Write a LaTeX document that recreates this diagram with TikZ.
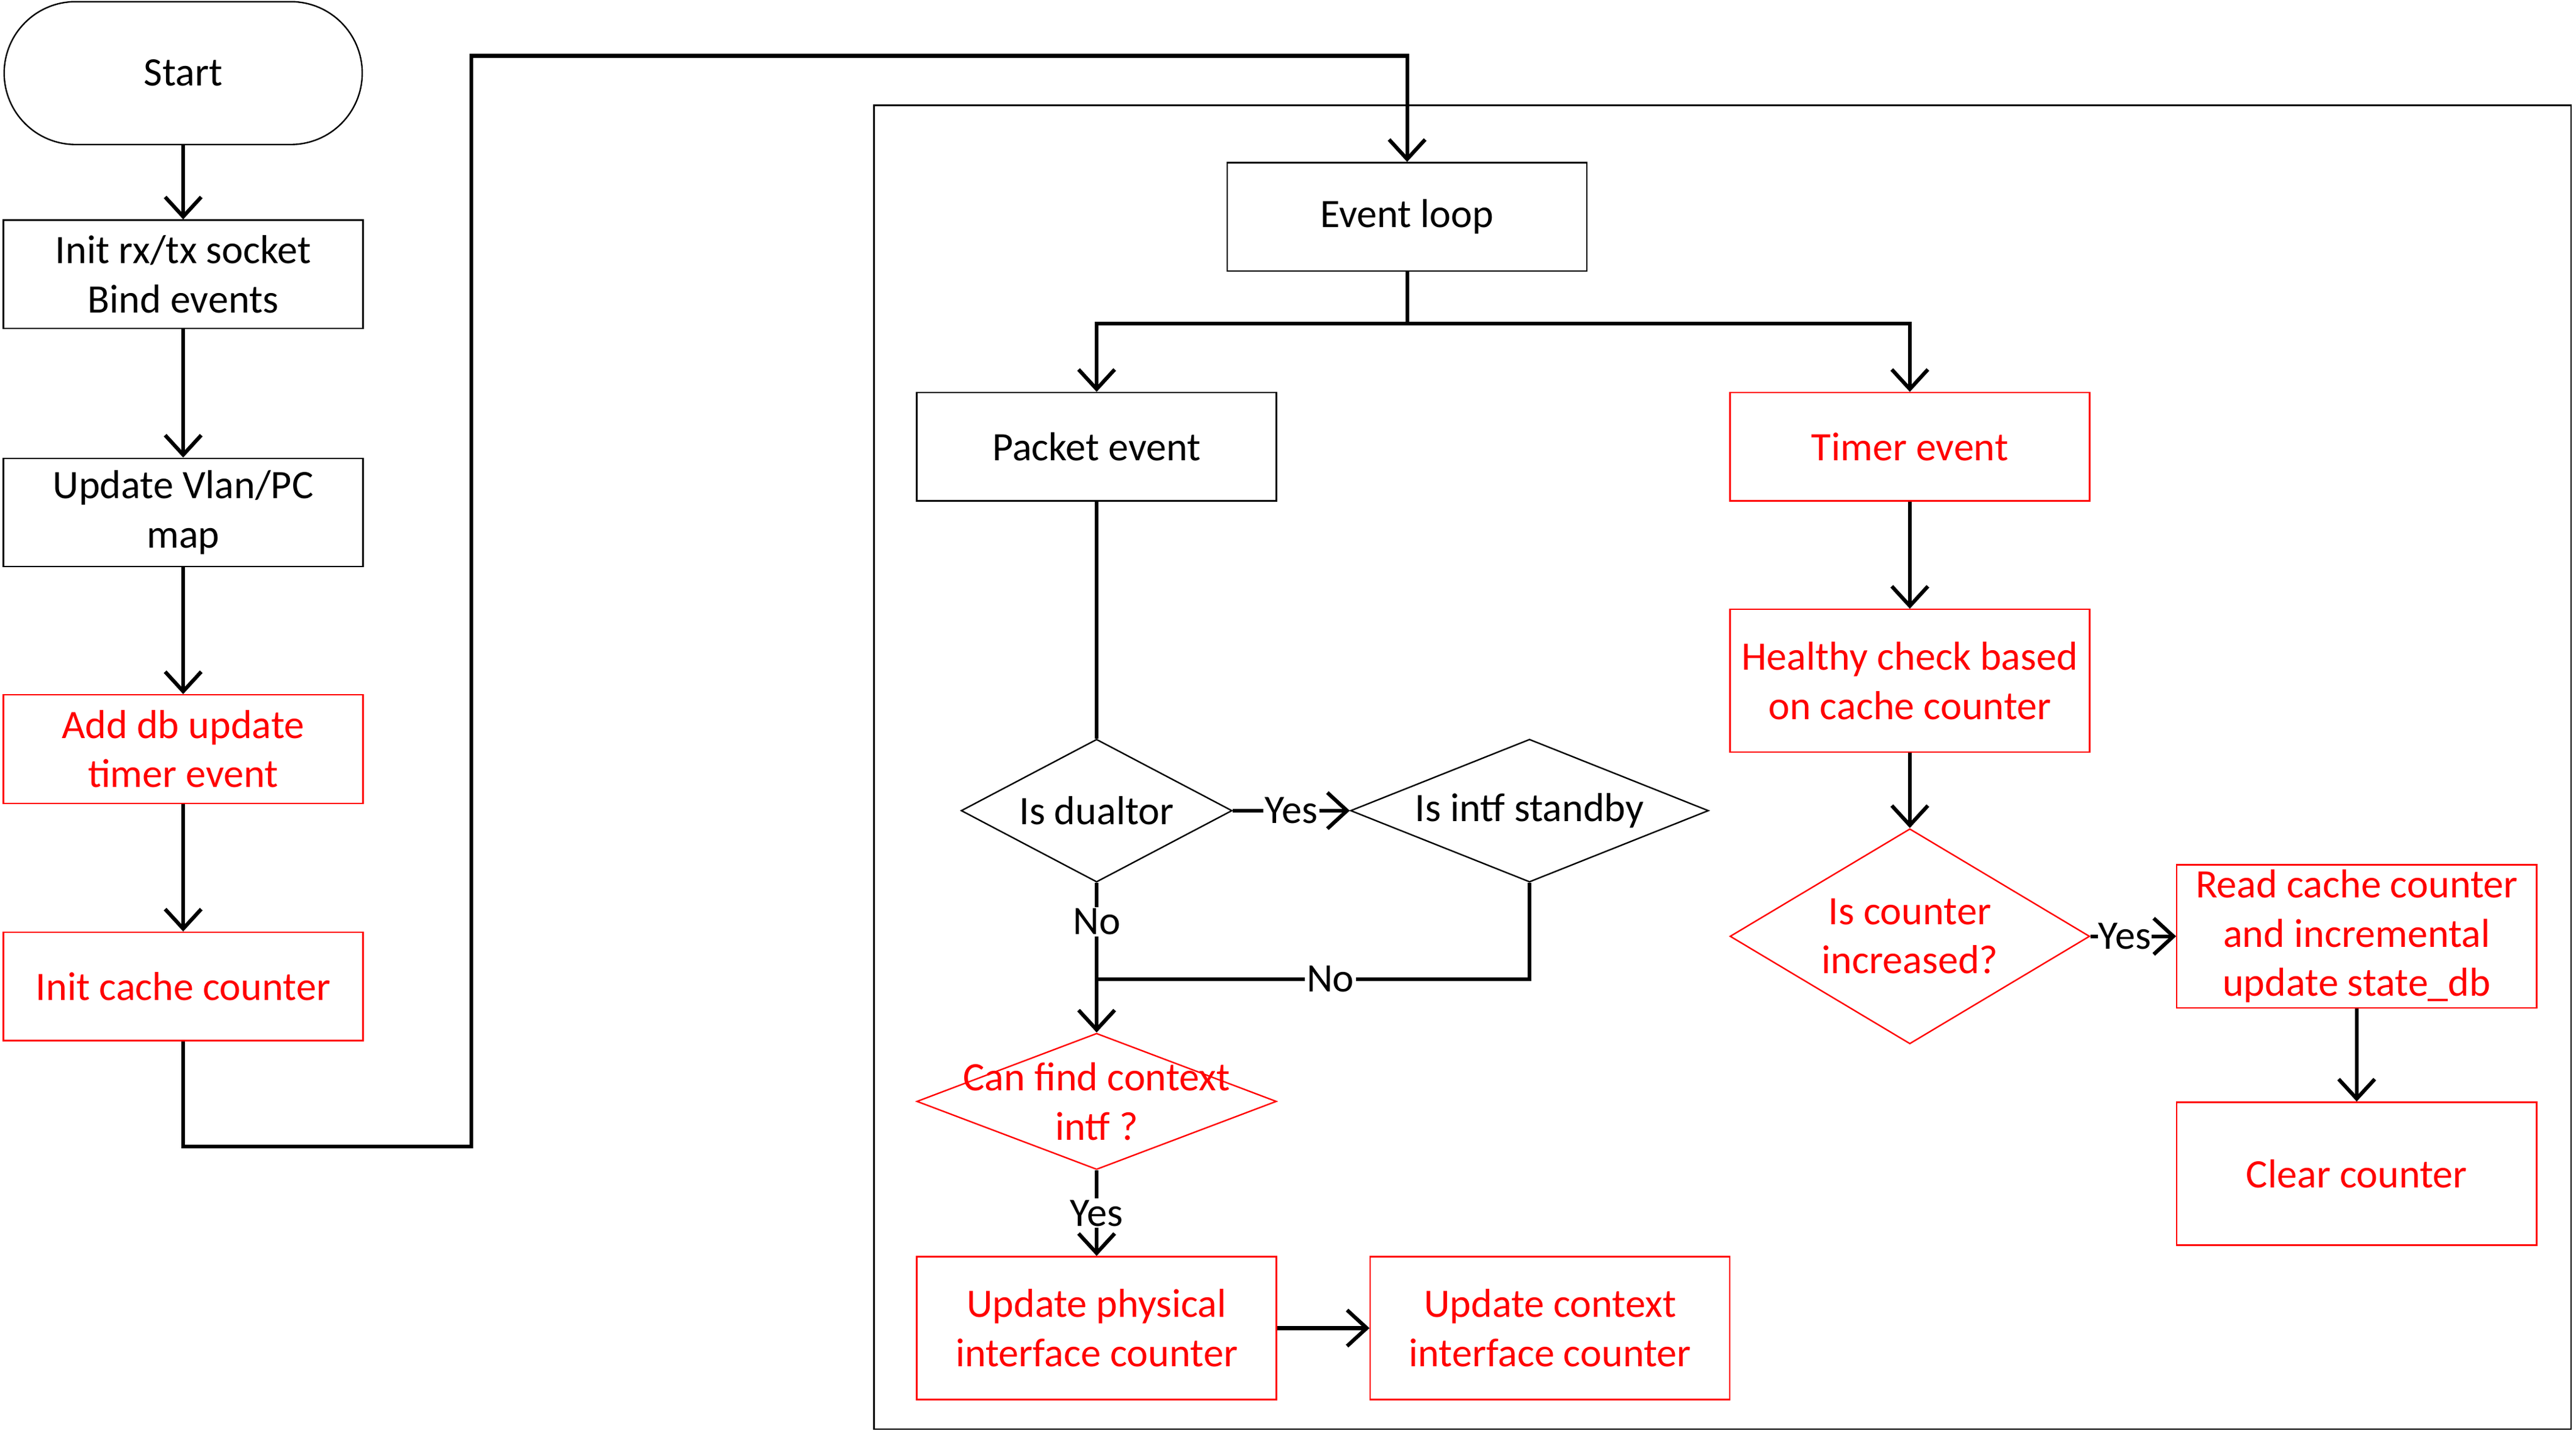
\documentclass[tikz,border=0pt]{standalone}
\usepackage{fontspec}
\setmainfont{Carlito}
\usetikzlibrary{arrows.meta,shapes.geometric}
\tikzset{
  every node/.style={font=\fontsize{14pt}{17pt}\selectfont},
  box/.style={rectangle, draw=black, line width=0.5pt, minimum width=4.38cm, minimum height=1.32cm, align=center, inner sep=0pt},
  tallbox/.style={box, minimum height=1.74cm},
  redbox/.style={draw=red, text=red},
  startbox/.style={box, minimum width=4.36cm, minimum height=1.74cm, rounded corners=0.87cm},
  dia/.style={diamond, draw=black, line width=0.5pt, inner sep=0pt},
  diatext/.style={align=center, inner sep=0pt},
  conn/.style={line width=1.3pt, -{Straight Barb[length=6.8pt,width=12.5pt]}},
  plainline/.style={line width=1.3pt},
  lab/.style={fill=white, inner sep=0.6pt, text=black},
}
\begin{document}
\begin{tikzpicture}[x=0.02cm,y=-0.02cm]
\useasboundingbox (0,0) rectangle (1568,871);
% container
\draw[line width=0.6pt] (532,64) rectangle (1565,870);
% left column
\node[startbox] (start) at (111.5,44.5) {Start};
\node[box] (init) at (111.5,167) {Init rx/tx socket\\Bind events};
\node[box] (vlan) at (111.5,312) {Update Vlan/PC\\map};
\node[box,redbox] (adddb) at (111.5,456) {Add db update\\timer event};
\node[box,redbox] (cache) at (111.5,600.5) {Init cache counter};
% main loop
\node[box] (ev) at (856.5,132) {Event loop};
\node[box] (pk) at (667.5,272) {Packet event};
\node[box,redbox] (tm) at (1162.5,272) {Timer event};
\node[tallbox,redbox] (hc) at (1162.5,414.5) {Healthy check based\\on cache counter};
% diamonds
\node[dia, minimum width=3.3cm, minimum height=1.74cm] (d1) at (667.5,493.5) {};
\node[diatext] (d1t) at (d1) {Is dualtor};
\node[dia, minimum width=4.36cm, minimum height=1.74cm] (d2) at (931,493.5) {};
\node[diatext] (d2t) at (d2) {Is intf standby};
\node[dia, draw=red, minimum width=4.38cm, minimum height=1.66cm] (d3) at (667.5,670.5) {};
\node[diatext, text=red] (d3t) at (d3) {Can find context\\intf ?};
\node[dia, draw=red, minimum width=4.38cm, minimum height=2.62cm] (d4) at (1162.5,570) {};
\node[diatext, text=red] (d4t) at (d4) {Is counter\\increased?};
% right boxes
\node[tallbox,redbox] (rc) at (1434.5,570) {Read cache counter\\and incremental\\update state\_db};
\node[tallbox,redbox] (cl) at (1434.5,714.5) {Clear counter};
\node[tallbox,redbox] (up) at (667.5,808.5) {Update physical\\interface counter};
\node[tallbox,redbox] (uc) at (943.5,808.5) {Update context\\interface counter};
% coordinates
\coordinate (c1) at (111.5,698);
\coordinate (c2) at (287,698);
\coordinate (c3) at (287,34);
\coordinate (c4) at (856.5,34);
\coordinate (evj) at (856.5,197);
\coordinate (nj) at (667.5,596);
% connectors
\draw[conn] (start) -- (init);
\draw[conn] (init) -- (vlan);
\draw[conn] (vlan) -- (adddb);
\draw[conn] (adddb) -- (cache);
\draw[conn] (cache) -- (c1) -- (c2) -- (c3) -- (c4) -- (ev);
\draw[plainline] (ev) -- (evj);
\draw[conn] (evj) -| (pk);
\draw[conn] (evj) -| (tm);
\draw[plainline] (pk) -- (d1);
\draw[conn] (d1) -- node[lab]{Yes} (d2);
\draw[conn] (d1) -- node[lab,pos=0.26]{No} (d3);
\draw[plainline] (d2) |- node[lab,pos=0.73]{No} (nj);
\draw[conn] (d3) -- node[lab]{Yes} (up);
\draw[conn] (up) -- (uc);
\draw[conn] (tm) -- (hc);
\draw[conn] (hc) -- (d4);
\draw[conn] (d4) -- node[lab,pos=0.4,inner sep=0.2pt]{Yes} (rc);
\draw[conn] (rc) -- (cl);
\end{tikzpicture}
\end{document}
